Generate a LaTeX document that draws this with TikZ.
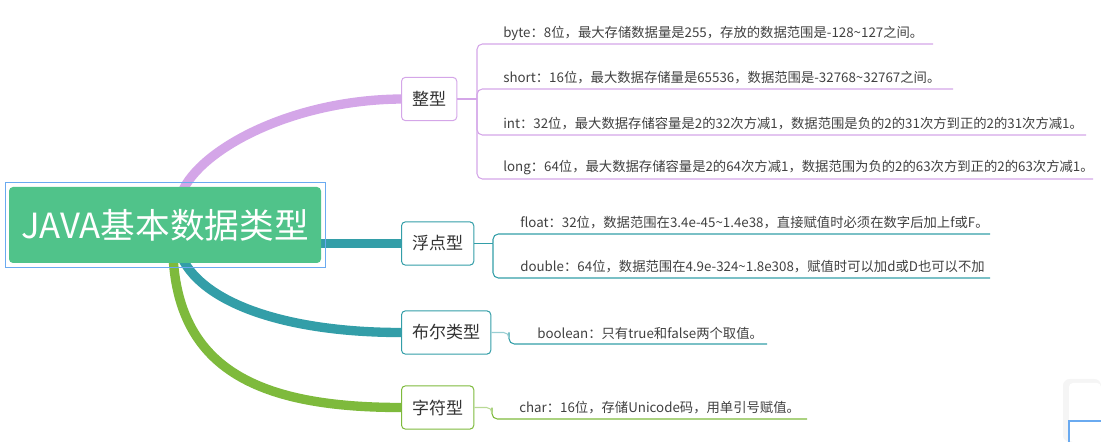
\documentclass[tikz,border=0pt]{standalone}
\usepackage{fontspec}
\setmainfont{Noto Sans CJK SC}
\usetikzlibrary{backgrounds}

\definecolor{rootgreen}{RGB}{80,195,138}
\definecolor{selblue}{RGB}{106,170,240}
\definecolor{intpurple}{RGB}{212,166,232}
\definecolor{floatteal}{RGB}{51,158,168}
\definecolor{charlime}{RGB}{126,186,60}
\definecolor{txtgray}{RGB}{64,64,64}

\begin{document}
\begin{tikzpicture}[x=0.75pt,y=-0.75pt,
  every node/.style={font=\fontsize{10}{12}\selectfont,text=txtgray},
  root/.style={fill=rootgreen,rounded corners=3pt,minimum width=234pt,minimum height=57pt,
    text=white,font=\fontsize{26}{30}\selectfont},
  branch/.style={draw=#1,fill=white,rounded corners=3pt,line width=0.75pt,inner xsep=8pt,
    minimum height=32.5pt,anchor=west,text=black!80,font=\fontsize{12.75}{15}\selectfont},
  leaf/.style={anchor=west,inner sep=0pt},
  leafline/.style={draw=#1,line width=0.8pt,rounded corners=4pt},
  limb/.style={draw=#1,line width=7pt}]
  \useasboundingbox (0,0) rectangle (1101,442);

  % central topic
  \node[root] (root) at (165,225) {JAVA基本数据类型};
  \draw[selblue,line width=1.1pt] ([shift={(-3,-4)}]root.north west) rectangle ([shift={(4,4)}]root.south east);

  % main branches
  \node[branch=intpurple] (zhengxing) at (401,99) {整型};
  \node[branch=floatteal] (fudianxing) at (401,243.5) {浮点型};
  \node[branch=floatteal] (buerleixing) at (401,332.5) {布尔类型};
  \node[branch=charlime] (zifuxing) at (401,407.5) {字符型};

  \begin{scope}[on background layer]
    \draw[limb=intpurple] ([yshift=-4pt]root.66) .. controls (200,150) and (290,100) .. (zhengxing.west);
    \draw[limb=floatteal] (fudianxing.west -| root.east) -- (fudianxing.west);
    \draw[limb=floatteal] ([yshift=4pt]root.294) .. controls (205,305) and (290,332.5) .. (buerleixing.west);
    \draw[limb=charlime] ([yshift=4pt]root.282) .. controls (180,370) and (260,407.5) .. (zifuxing.west);
  \end{scope}

  % 整型
  \coordinate (zx) at (477,99);
  \draw[leafline=intpurple] (zhengxing.east) -- (zx);
  \foreach \y/\xend/\entry [count=\i] in {
      44/933/{byte：8位，最大存储数据量是255，存放的数据范围是-128\textasciitilde127之间。},
      89/953/{short：16位，最大数据存储量是65536，数据范围是-32768\textasciitilde32767之间。},
      135/1086/{int：32位，最大数据存储容量是2的32次方减1，数据范围是负的2的31次方到正的2的31次方减1。},
      179/1093/{long：64位，最大数据存储容量是2的64次方减1，数据范围为负的2的63次方到正的2的63次方减1。}} {
    \node[leaf] (zx-\i) at (503,\y-11) {\entry};
    \coordinate (zx-\i-end) at (\xend,\y);
    \draw[leafline=intpurple] (zx) |- (zx-\i-end);
  }

  % 浮点型
  \coordinate (fd) at (493,243.5);
  \draw[leafline=floatteal] (fudianxing.east) -- (fd);
  \foreach \y/\xend/\entry [count=\i] in {
      234/990/{float：32位，数据范围在3.4e-45\textasciitilde1.4e38，直接赋值时必须在数字后加上f或F。},
      278/990/{double：64位，数据范围在4.9e-324\textasciitilde1.8e308，赋值时可以加d或D也可以不加}} {
    \node[leaf] (fd-\i) at (520,\y-11) {\entry};
    \coordinate (fd-\i-end) at (\xend,\y);
    \draw[leafline=floatteal] (fd) |- (fd-\i-end);
  }

  % 布尔类型
  \coordinate (be) at (509,332.5);
  \coordinate (be-1-end) at (767,344);
  \node[leaf] (be-1) at (537,333) {boolean：只有true和false两个取值。};
  \draw[leafline=floatteal] (be) |- (be-1-end);
  \draw[leafline=floatteal!50] (buerleixing.east) -- (be) -- ++(0,6);

  % 字符型
  \coordinate (zf) at (492,407.5);
  \coordinate (zf-1-end) at (807,419);
  \node[leaf] (zf-1) at (519,408) {char：16位，存储Unicode码，用单引号赋值。};
  \draw[leafline=charlime] (zf) |- (zf-1-end);
  \draw[leafline=charlime!55] (zifuxing.east) -- (zf) -- ++(0,6);

  % side panel corner
  \fill[black!4,rounded corners=5pt] (1063,379) rectangle (1101,442);
  \fill[white,rounded corners=3pt] (1069,383) rectangle (1101,442);
  \draw[selblue,line width=0.8pt] (1101,421) -- (1069,421) -- (1069,442);
\end{tikzpicture}
\end{document}
